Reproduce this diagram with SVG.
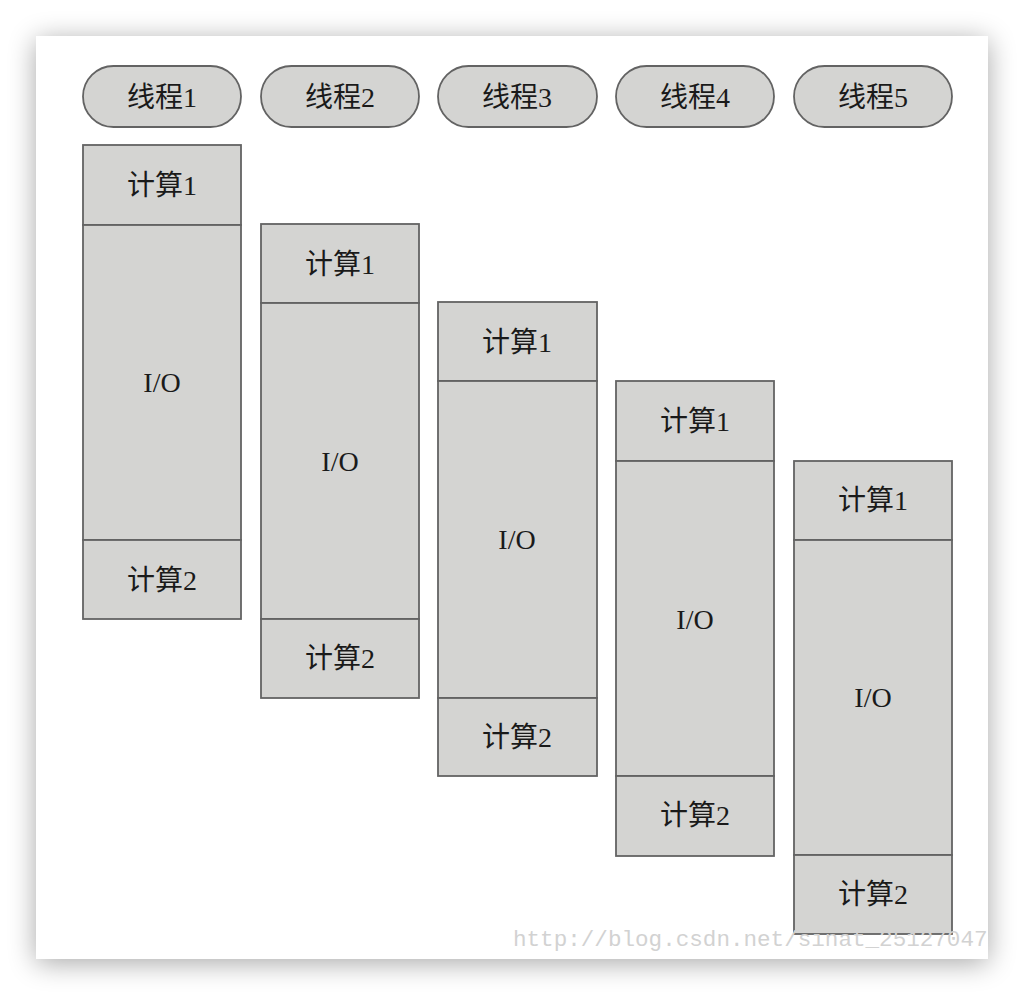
<svg xmlns="http://www.w3.org/2000/svg" width="1028" height="996" viewBox="0 0 1028 996">
<defs>
<filter id="sh" x="-10%" y="-10%" width="120%" height="120%">
<feGaussianBlur in="SourceAlpha" stdDeviation="14"/>
<feOffset dx="0" dy="4" result="b"/>
<feComponentTransfer><feFuncA type="linear" slope="0.35"/></feComponentTransfer>
<feMerge><feMergeNode/><feMergeNode in="SourceGraphic"/></feMerge>
</filter>
</defs>
<style>
.box{fill:#d4d4d2;stroke:#636363;stroke-width:1.8}
.t{font-family:"Liberation Serif","Noto Sans CJK SC",serif;font-size:28px;fill:#1a1a1a;text-anchor:middle;dominant-baseline:central}
.wm{font-family:"Liberation Mono",monospace;font-size:22.6px;fill:#d2d2d2}
</style>
<rect x="0" y="0" width="1028" height="996" fill="#fff"/>
<rect x="36" y="36" width="952" height="923" fill="#fff" filter="url(#sh)"/>
<g id="thread1"><rect class="box" x="83" y="66" width="158" height="61" rx="30.5"/><text class="t" x="162" y="97">线程1</text></g>
<g id="thread2"><rect class="box" x="261" y="66" width="158" height="61" rx="30.5"/><text class="t" x="340" y="97">线程2</text></g>
<g id="thread3"><rect class="box" x="438" y="66" width="159" height="61" rx="30.5"/><text class="t" x="517" y="97">线程3</text></g>
<g id="thread4"><rect class="box" x="616" y="66" width="158" height="61" rx="30.5"/><text class="t" x="695" y="97">线程4</text></g>
<g id="thread5"><rect class="box" x="794" y="66" width="158" height="61" rx="30.5"/><text class="t" x="873" y="97">线程5</text></g>

<g id="col1">
<rect class="box" x="83" y="145" width="158" height="80"/><text class="t" x="162" y="185">计算1</text>
<rect class="box" x="83" y="225" width="158" height="315"/><text class="t" x="162" y="382">I/O</text>
<rect class="box" x="83" y="540" width="158" height="79"/><text class="t" x="162" y="580">计算2</text>
</g>
<g id="col2">
<rect class="box" x="261" y="224" width="158" height="79"/><text class="t" x="340" y="264">计算1</text>
<rect class="box" x="261" y="303" width="158" height="316"/><text class="t" x="340" y="461">I/O</text>
<rect class="box" x="261" y="619" width="158" height="79"/><text class="t" x="340" y="658">计算2</text>
</g>
<g id="col3">
<rect class="box" x="438" y="302" width="159" height="79"/><text class="t" x="517" y="342">计算1</text>
<rect class="box" x="438" y="381" width="159" height="317"/><text class="t" x="517" y="539">I/O</text>
<rect class="box" x="438" y="698" width="159" height="78"/><text class="t" x="517" y="737">计算2</text>
</g>
<g id="col4">
<rect class="box" x="616" y="381" width="158" height="80"/><text class="t" x="695" y="421">计算1</text>
<rect class="box" x="616" y="461" width="158" height="315"/><text class="t" x="695" y="619">I/O</text>
<rect class="box" x="616" y="776" width="158" height="80"/><text class="t" x="695" y="815">计算2</text>
</g>
<g id="col5">
<rect class="box" x="794" y="461" width="158" height="79"/><text class="t" x="873" y="500">计算1</text>
<rect class="box" x="794" y="540" width="158" height="315"/><text class="t" x="873" y="697">I/O</text>
<rect class="box" x="794" y="855" width="158" height="79"/><text class="t" x="873" y="894">计算2</text>
</g>
<g id="connectors"/>
<text class="wm" x="513" y="946">http://blog.csdn.net/sinat_25127047</text>
</svg>
